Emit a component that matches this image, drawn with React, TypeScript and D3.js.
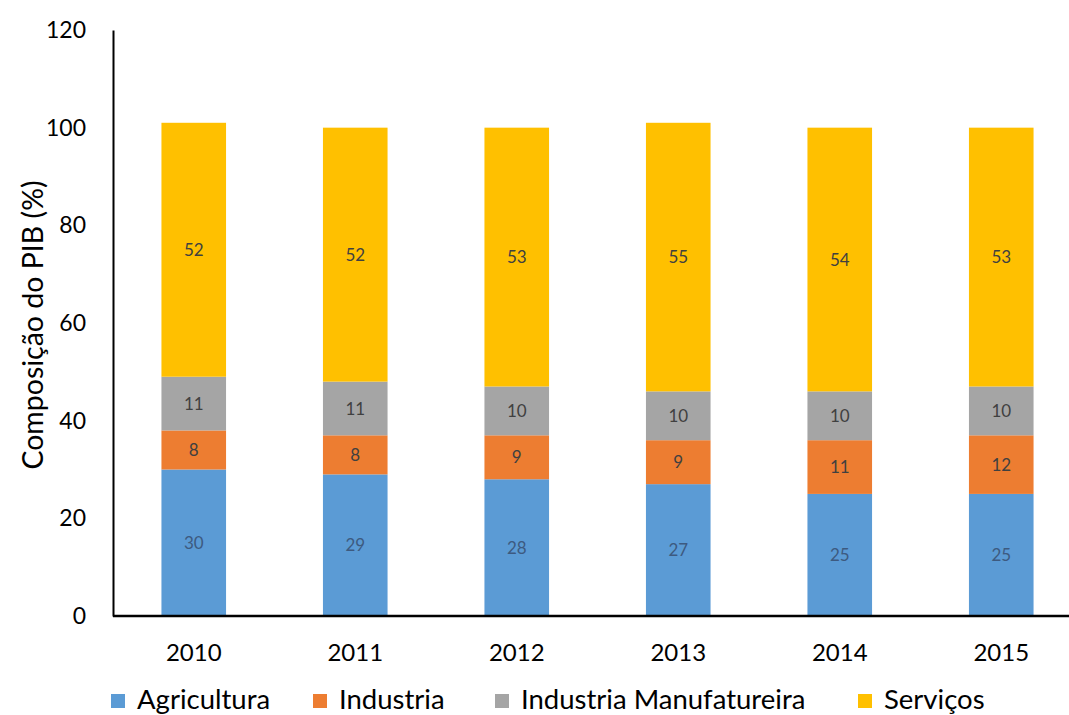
import React, { useEffect, useRef } from "react";
import * as d3 from "d3";

const years = ["2010", "2011", "2012", "2013", "2014", "2015"];
const agricultura = [30, 29, 28, 27, 25, 25];
const industria = [8, 8, 9, 9, 11, 12];
const manufatureira = [11, 11, 10, 10, 10, 10];
const servicos = [52, 52, 53, 55, 54, 53];
const seriesNames = ["Agricultura", "Industria", "Industria Manufatureira", "Serviços"];
const seriesColors = ["#5B9BD5", "#ED7D31", "#A5A5A5", "#FFC000"];
const labelColors = ["#3d5a80", "#404040", "#404040", "#404040"];
const yTicks = [0, 20, 40, 60, 80, 100, 120];

const W = 1069;
const H = 715;
const FONT = "Lato, sans-serif";

export default function App() {
  const ref = useRef<SVGSVGElement>(null);
  useEffect(() => {
    const svg = d3.select(ref.current);
    svg.selectAll("*").remove();
    const left = 113, right = 1082, top = 30, bottom = 616;
    const x = d3.scaleBand().domain(years).range([left, right]).paddingInner(0.6).paddingOuter(0.3);
    const y = d3.scaleLinear().domain([0, 120]).range([bottom, top]);

    const rows = years.map((yr, i) => ({
      year: yr,
      s0: agricultura[i],
      s1: industria[i],
      s2: manufatureira[i],
      s3: servicos[i],
    }));
    const stack = d3.stack<any>().keys(["s0", "s1", "s2", "s3"]);
    const stacked = stack(rows);

    const g = svg.append("g");
    stacked.forEach((layer, li) => {
      const lg = g.append("g");
      lg.selectAll("rect")
        .data(layer)
        .enter()
        .append("rect")
        .attr("x", (d: any) => x(d.data.year)!)
        .attr("width", x.bandwidth())
        .attr("y", (d: any) => y(d[1]))
        .attr("height", (d: any) => y(d[0]) - y(d[1]))
        .attr("fill", seriesColors[li]);
      lg.selectAll("text")
        .data(layer)
        .enter()
        .append("text")
        .attr("x", (d: any) => x(d.data.year)! + x.bandwidth() / 2)
        .attr("y", (d: any) => (y(d[0]) + y(d[1])) / 2)
        .attr("text-anchor", "middle")
        .attr("dy", "0.36em")
        .attr("font-family", FONT)
        .attr("font-size", 17)
        .attr("fill", labelColors[li])
        .text((d: any) => String(d[1] - d[0]));
    });

    // axes
    const yAxis = d3.axisLeft(y).tickValues(yTicks).tickSize(0).tickPadding(27);
    const ya = svg.append("g").attr("transform", `translate(${left},0)`).call(yAxis);
    ya.select(".domain").attr("stroke", "#000").attr("stroke-width", 2);
    ya.selectAll("text").attr("font-family", FONT).attr("font-size", 23).attr("fill", "#000");

    const xAxis = d3.axisBottom(x).tickSize(0).tickPadding(28);
    const xa = svg.append("g").attr("transform", `translate(0,${bottom})`).call(xAxis);
    xa.select(".domain").remove();
    xa.append("line").attr("x1", left).attr("x2", W).attr("y1", 0).attr("y2", 0).attr("stroke", "#000").attr("stroke-width", 2.5);
    xa.selectAll("text").attr("font-family", FONT).attr("font-size", 24).attr("fill", "#000");

    // y title
    svg.append("text")
      .attr("transform", `translate(43,${325}) rotate(-90)`)
      .attr("text-anchor", "middle")
      .attr("font-family", FONT)
      .attr("font-size", 28.5)
      .attr("fill", "#000")
      .text("Composição do PIB (%)");

    // legend
    const legendX = [111, 313, 495, 858];
    const lg = svg.append("g");
    seriesNames.forEach((name, i) => {
      lg.append("rect").attr("x", legendX[i]).attr("y", 694).attr("width", 14).attr("height", 14).attr("fill", seriesColors[i]);
      lg.append("text")
        .attr("x", legendX[i] + 26)
        .attr("y", 709)
        .attr("font-family", FONT)
        .attr("font-size", 27.5)
        .attr("fill", "#000")
        .text(name);
    });
  }, []);
  return <svg ref={ref} width={W} height={H} style={{ display: "block", position: "absolute", left: 0, top: 0, background: "#fff" }} />;
}
